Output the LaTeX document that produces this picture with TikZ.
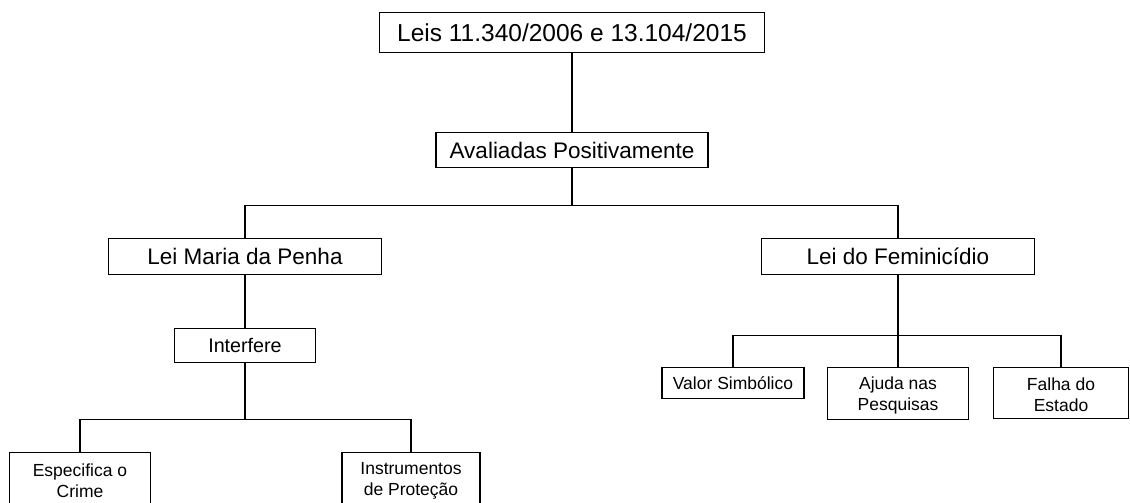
\documentclass[tikz,border=0pt]{standalone}
\usepackage{fontspec}
\setmainfont{Liberation Sans}
\begin{document}
\begin{tikzpicture}[x=1pt,y=-1pt,
  box/.style={draw=black, line width=1.2pt, rectangle, inner sep=0pt, anchor=north, align=center, text=black},
  big/.style={box, font=\fontsize{24.5}{29}\selectfont},
  mid/.style={box, font=\fontsize{22.5}{27}\selectfont},
  small/.style={box, font=\fontsize{19.7}{23}\selectfont},
  leaf/.style={box, font=\fontsize{17.5}{21}\selectfont},
  conn/.style={draw=black, line width=1.2pt}]
\useasboundingbox (0,0) rectangle (1130,503);
\clip (0,0) rectangle (1130,503);
\node[big, minimum width=385pt, minimum height=40pt] (top) at (572,12) {Leis 11.340/2006 e 13.104/2015};
\node[mid, minimum width=272pt, minimum height=35pt] (aval) at (572,132) {Avaliadas Positivamente};
\node[mid, minimum width=273pt, minimum height=36pt] (maria) at (245,238) {Lei Maria da Penha};
\node[mid, minimum width=273pt, minimum height=36pt] (femin) at (898,238) {Lei do Feminicídio};
\node[small, minimum width=141pt, minimum height=34pt] (interf) at (245,328) {Interfere};
\node[leaf, minimum width=141pt, minimum height=56pt] (esp) at (80,452) {Especifica o\\Crime};
\node[leaf, minimum width=138pt, minimum height=56pt] (instr) at (411,452) {Instrumentos\\de Proteção};
\node[leaf, minimum width=142pt, minimum height=31pt] (valor) at (733,367) {Valor Simbólico};
\node[leaf, minimum width=141pt, minimum height=52pt] (ajuda) at (898,367) {\rule{0pt}{16pt}Ajuda nas\\Pesquisas};
\node[leaf, minimum width=135pt, minimum height=51pt] (falha) at (1061,367) {\rule{0pt}{16pt}Falha do\\Estado};
\draw[conn] (top) -- (aval);
\draw[conn] (aval.south) -- ++(0,37) -| (maria.north);
\draw[conn] (aval.south) -- ++(0,37) -| (femin.north);
\draw[conn] (maria) -- (interf);
\draw[conn] (interf.south) -- ++(0,56) -| (esp.north);
\draw[conn] (interf.south) -- ++(0,56) -| (instr.north);
\draw[conn] (femin.south) -- ++(0,60) -| (valor.north);
\draw[conn] (femin.south) -- ++(0,60) -| (ajuda.north);
\draw[conn] (femin.south) -- ++(0,60) -| (falha.north);
\end{tikzpicture}
\end{document}
